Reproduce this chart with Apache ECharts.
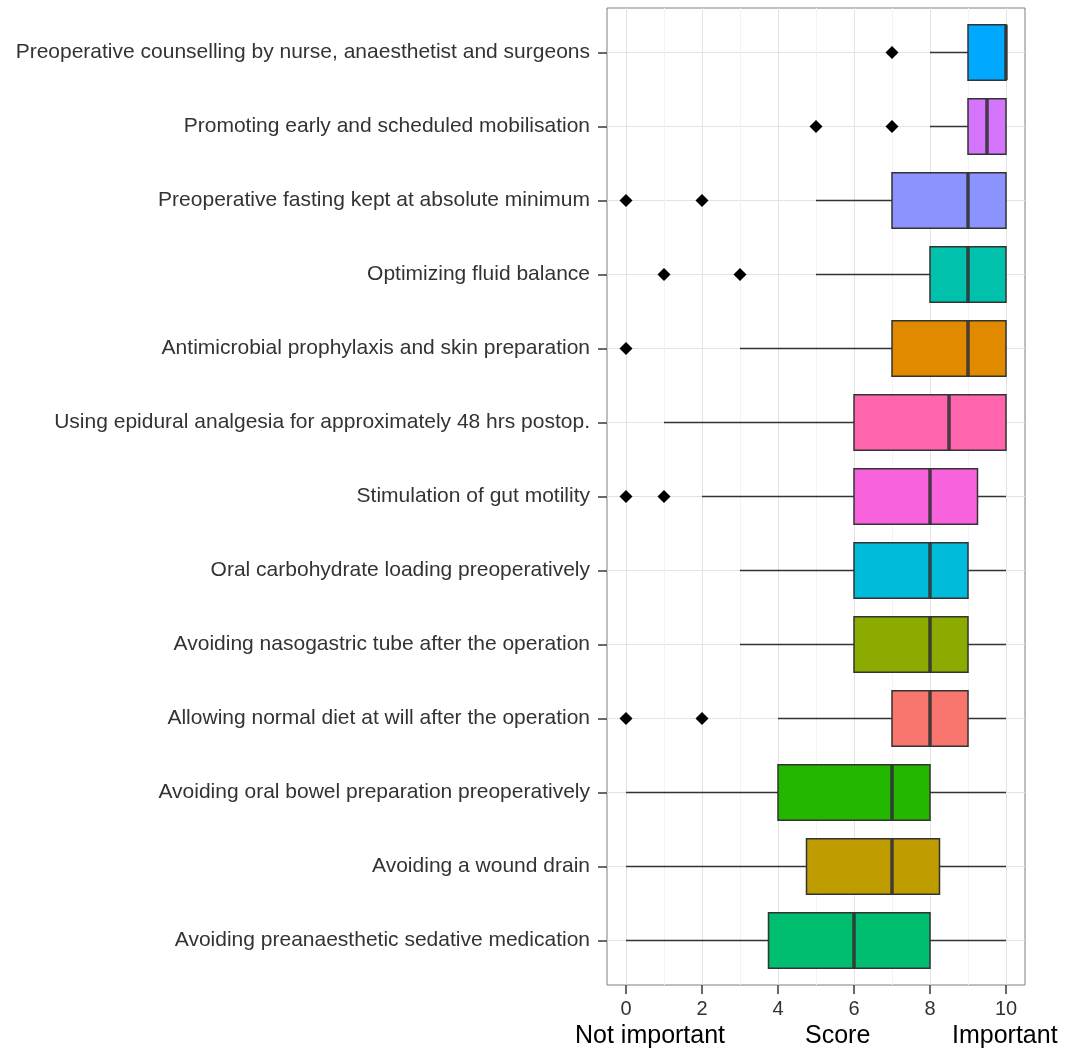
<!DOCTYPE html>
<html>
<head>
<meta charset="utf-8">
<script src="https://cdn.jsdelivr.net/npm/echarts@6/dist/echarts.min.js"></script>
<style>
html,body{margin:0;padding:0;background:#fff;}
#chart{width:1068px;height:1057px;}
</style>
</head>
<body>
<div id="chart"></div>
<script>
// ---- data (top to bottom) ----
const categories = [
  'Preoperative counselling by nurse, anaesthetist and surgeons',
  'Promoting early and scheduled mobilisation',
  'Preoperative fasting kept at absolute minimum',
  'Optimizing fluid balance',
  'Antimicrobial prophylaxis and skin preparation',
  'Using epidural analgesia for approximately 48 hrs postop.',
  'Stimulation of gut motility',
  'Oral carbohydrate loading preoperatively',
  'Avoiding nasogastric tube after the operation',
  'Allowing normal diet at will after the operation',
  'Avoiding oral bowel preparation preoperatively',
  'Avoiding a wound drain',
  'Avoiding preanaesthetic sedative medication'
];
const whiskerLow  = [8, 8, 5, 5, 3, 1, 2, 3, 3, 4, 0, 0, 0];
const q1          = [9, 9, 7, 8, 7, 6, 6, 6, 6, 7, 4, 4.75, 3.75];
const median      = [10, 9.5, 9, 9, 9, 8.5, 8, 8, 8, 8, 7, 7, 6];
const q3          = [10, 10, 10, 10, 10, 10, 9.25, 9, 9, 9, 8, 8.25, 8];
const whiskerHigh = [10, 10, 10, 10, 10, 10, 10, 10, 10, 10, 10, 10, 10];
// outliers: [category index, score]
const outliers = [
  [0, 7],
  [1, 5], [1, 7],
  [2, 0], [2, 2],
  [3, 1], [3, 3],
  [4, 0],
  [6, 0], [6, 1],
  [9, 0], [9, 2]
];
const xTicks = [0, 2, 4, 6, 8, 10];
const xMinorTicks = [1, 3, 5, 7, 9];
const yTicks = categories.map((c, i) => i);

// fills (ggplot hue palette as seen)
const fills = ['#00A9FF', '#D575FE', '#8B93FF', '#00C1AB', '#E18A00', '#FF65AC',
  '#F962DD', '#00BBDA', '#8CAB00', '#F8766D', '#24B700', '#BE9C00', '#00BE70'];

const boxData = categories.map((c, i) => [i, whiskerLow[i], q1[i], median[i], q3[i], whiskerHigh[i]]);

const chart = echarts.init(document.getElementById('chart'), null, {renderer: 'canvas'});
const FONT = '"Liberation Sans", Arial, sans-serif';
const lineCol = '#333333';

chart.setOption({
  animation: false,
  backgroundColor: '#ffffff',
  grid: {
    left: 607, top: 8, width: 418, height: 977,
    show: true, borderColor: '#7f7f7f', borderWidth: 1, backgroundColor: 'transparent'
  },
  xAxis: [
    {
      type: 'value', min: -0.5, max: 10.5, position: 'bottom',
      axisLine: {show: false, onZero: false},
      axisTick: {show: true, length: 9, customValues: xTicks, lineStyle: {color: '#444444', width: 1.6}},
      axisLabel: {customValues: xTicks, fontSize: 20, color: '#333333', fontFamily: FONT, margin: 14},
      splitLine: {show: true, lineStyle: {color: '#e3e3e3', width: 1}}
    },
    {
      type: 'value', min: -0.5, max: 10.5, position: 'top',
      axisLine: {show: false, onZero: false},
      axisTick: {show: false, customValues: xMinorTicks},
      axisLabel: {show: false},
      splitLine: {show: true, lineStyle: {color: '#f3f3f3', width: 1}}
    }
  ],
  yAxis: {
    type: 'value', min: -0.6, max: 12.6, inverse: true, position: 'left',
    axisLine: {show: false, onZero: false},
    axisTick: {show: true, length: 9, customValues: yTicks, lineStyle: {color: '#444444', width: 1.6}},
    axisLabel: {
      customValues: yTicks, fontSize: 21, color: '#333333', fontFamily: FONT, margin: 17,
      formatter: v => categories[Math.round(v)]
    },
    splitLine: {show: true, lineStyle: {color: '#e3e3e3', width: 1}}
  },
  series: [
    {
      type: 'custom',
      xAxisIndex: 0,
      data: boxData,
      encode: {x: [1, 2, 3, 4, 5], y: 0},
      z: 3,
      renderItem: function (params, api) {
        const idx = api.value(0);
        const pLo = api.coord([api.value(1), idx]);
        const pQ1 = api.coord([api.value(2), idx]);
        const pMed = api.coord([api.value(3), idx]);
        const pQ3 = api.coord([api.value(4), idx]);
        const pHi = api.coord([api.value(5), idx]);
        const h = api.size([0, 1])[1] * 0.75;
        const y = pQ1[1];
        const children = [];
        if (pQ1[0] - pLo[0] > 0.5) children.push({type: 'line', shape: {x1: pLo[0], y1: y, x2: pQ1[0], y2: y}, style: {stroke: lineCol, lineWidth: 1.5}});
        if (pHi[0] - pQ3[0] > 0.5) children.push({type: 'line', shape: {x1: pQ3[0], y1: y, x2: pHi[0], y2: y}, style: {stroke: lineCol, lineWidth: 1.5}});
        children.push({type: 'rect', shape: {x: pQ1[0], y: y - h / 2, width: pQ3[0] - pQ1[0], height: h},
          style: {fill: fills[params.dataIndex], stroke: lineCol, lineWidth: 1.5}});
        children.push({type: 'line', shape: {x1: pMed[0], y1: y - h / 2, x2: pMed[0], y2: y + h / 2},
          style: {stroke: lineCol, lineWidth: 3.5, opacity: 0.9}});
        return {type: 'group', children: children};
      }
    },
    {
      type: 'scatter',
      xAxisIndex: 0,
      data: outliers.map(o => [o[1], o[0]]),
      symbol: 'diamond',
      symbolSize: [13, 13],
      itemStyle: {color: '#000000', opacity: 1},
      z: 4
    }
  ],
  graphic: [
    {type: 'text', left: 575, top: 1024, style: {text: 'Not important', font: '25px ' + FONT, fill: '#000'}},
    {type: 'text', left: 805, top: 1024, style: {text: 'Score', font: '25px ' + FONT, fill: '#000'}},
    {type: 'text', left: 952, top: 1024, style: {text: 'Important', font: '25px ' + FONT, fill: '#000'}}
  ]
});
</script>
</body>
</html>
